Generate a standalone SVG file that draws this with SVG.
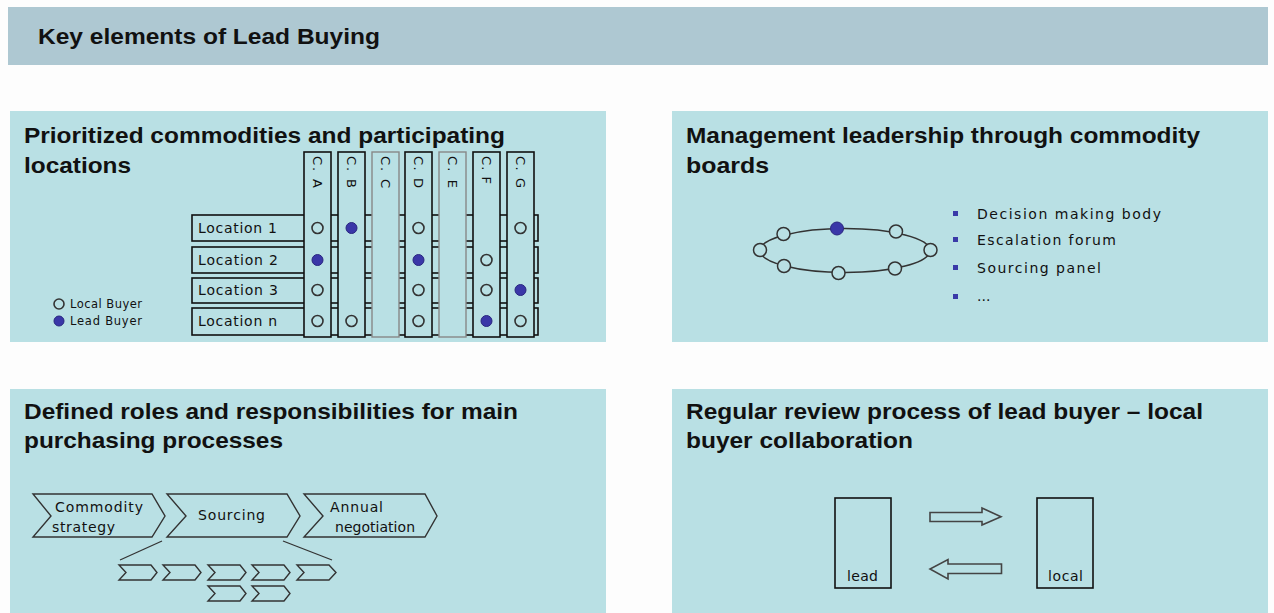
<svg xmlns="http://www.w3.org/2000/svg" width="1274" height="613" viewBox="0 0 1274 613">
<style>
.bg{fill:#fdfdfd}
.hdr{fill:#aec8d2}
.pnl{fill:#b9e0e4}
.ttl{font-family:"Liberation Sans",Arial,sans-serif;font-weight:bold;font-size:22px;fill:#111}
.txt{font-family:"DejaVu Sans",Verdana,sans-serif;font-size:14px;fill:#111}
.sm{font-family:"DejaVu Sans",Verdana,sans-serif;font-size:11.5px;fill:#111}
.col{font-family:"DejaVu Sans",Verdana,sans-serif;font-size:13px;fill:#111}
.box{fill:#b9e0e4;stroke:#111;stroke-width:1.6}
.gbox{fill:#b9e0e4;stroke:#888;stroke-width:1.4}
.op{fill:none;stroke:#333;stroke-width:1.6}
.fl{fill:#3a37a8;stroke:#2a2780;stroke-width:1}
.chev{fill:#b9e0e4;stroke:#333;stroke-width:1.4}
.ln{stroke:#333;stroke-width:1.3;fill:none}
.arr{fill:#b9e0e4;stroke:#444;stroke-width:1.6}
.nd{fill:#b9e0e4;stroke:#333;stroke-width:1.5}
.sq{fill:#3a3aa8}
</style>
<rect class="bg" x="0" y="0" width="1274" height="613"/>
<g id="header">
<rect class="hdr" x="8" y="7" width="1260" height="58"/>
<text class="ttl" x="38" y="44" textLength="342" lengthAdjust="spacingAndGlyphs">Key elements of Lead Buying</text>
</g>

<g id="panel-commodities">
<rect class="pnl" x="10" y="111" width="596" height="231"/>
<text class="ttl" x="24" y="143" textLength="481" lengthAdjust="spacingAndGlyphs">Prioritized commodities and participating</text>
<text class="ttl" x="24" y="173" textLength="107" lengthAdjust="spacingAndGlyphs">locations</text>
<g id="rows">
<rect class="box" x="192" y="215" width="346" height="26"/>
<rect class="box" x="192" y="247" width="346" height="26"/>
<rect class="box" x="192" y="278" width="346" height="25"/>
<rect class="box" x="192" y="308" width="346" height="27"/>
<text class="txt" x="198" y="233" font-size="15" textLength="79" lengthAdjust="spacing">Location 1</text>
<text class="txt" x="198" y="265" font-size="15" textLength="80" lengthAdjust="spacing">Location 2</text>
<text class="txt" x="198" y="295" font-size="15" textLength="80" lengthAdjust="spacing">Location 3</text>
<text class="txt" x="198" y="326" font-size="15" textLength="79" lengthAdjust="spacing">Location n</text>
</g>
<g id="columns">
<rect class="box" x="304" y="152" width="27" height="185"/>
<rect class="box" x="338" y="152" width="27" height="185"/>
<rect class="gbox" x="372" y="152" width="27" height="185"/>
<rect class="box" x="405" y="152" width="27" height="185"/>
<rect class="gbox" x="439" y="152" width="27" height="185"/>
<rect class="box" x="473" y="152" width="27" height="185"/>
<rect class="box" x="507" y="152" width="27" height="185"/>
<text class="col" transform="translate(317.5,156) rotate(90)" x="0" y="4.5" textLength="32" lengthAdjust="spacing">C. A</text>
<text class="col" transform="translate(351.5,156) rotate(90)" x="0" y="4.5" textLength="32" lengthAdjust="spacing">C. B</text>
<text class="col" transform="translate(385.5,156) rotate(90)" x="0" y="4.5" textLength="32" lengthAdjust="spacing">C. C</text>
<text class="col" transform="translate(418.5,156) rotate(90)" x="0" y="4.5" textLength="32" lengthAdjust="spacing">C. D</text>
<text class="col" transform="translate(452.5,156) rotate(90)" x="0" y="4.5" textLength="32" lengthAdjust="spacing">C. E</text>
<text class="col" transform="translate(486.5,156) rotate(90)" x="0" y="4.5" textLength="28" lengthAdjust="spacing">C. F</text>
<text class="col" transform="translate(520.5,156) rotate(90)" x="0" y="4.5" textLength="32" lengthAdjust="spacing">C. G</text>
</g>
<g id="dots">
<circle class="op" cx="317.5" cy="228" r="5.5"/>
<circle class="fl" cx="351.5" cy="228" r="5.5"/>
<circle class="op" cx="418.5" cy="228" r="5.5"/>
<circle class="op" cx="520.5" cy="228" r="5.5"/>
<circle class="fl" cx="317.5" cy="260" r="5.5"/>
<circle class="fl" cx="418.5" cy="260" r="5.5"/>
<circle class="op" cx="486.5" cy="260" r="5.5"/>
<circle class="op" cx="317.5" cy="290" r="5.5"/>
<circle class="op" cx="418.5" cy="290" r="5.5"/>
<circle class="op" cx="486.5" cy="290" r="5.5"/>
<circle class="fl" cx="520.5" cy="290" r="5.5"/>
<circle class="op" cx="317.5" cy="321" r="5.5"/>
<circle class="op" cx="351.5" cy="321" r="5.5"/>
<circle class="op" cx="418.5" cy="321" r="5.5"/>
<circle class="fl" cx="486.5" cy="321" r="5.5"/>
<circle class="op" cx="520.5" cy="321" r="5.5"/>
</g>
<g id="legend">
<circle class="op" cx="59" cy="304" r="5"/>
<circle class="fl" cx="59" cy="321" r="5"/>
<text class="sm" x="70" y="308" textLength="72" lengthAdjust="spacing">Local Buyer</text>
<text class="sm" x="70" y="325" textLength="72" lengthAdjust="spacing">Lead Buyer</text>
</g>
</g>

<g id="panel-boards">
<rect class="pnl" x="672" y="111" width="596" height="231"/>
<text class="ttl" x="686" y="143" textLength="514" lengthAdjust="spacingAndGlyphs">Management leadership through commodity</text>
<text class="ttl" x="686" y="173" textLength="83" lengthAdjust="spacingAndGlyphs">boards</text>
<ellipse cx="845" cy="250.5" rx="85" ry="22" fill="none" stroke="#333" stroke-width="1.5"/>
<circle class="nd" cx="760" cy="250" r="6.5"/>
<circle class="nd" cx="783.5" cy="234" r="6.5"/>
<circle class="fl" cx="837" cy="228.5" r="6.5"/>
<circle class="nd" cx="896" cy="231.5" r="6.5"/>
<circle class="nd" cx="930.5" cy="250" r="6.5"/>
<circle class="nd" cx="784" cy="266" r="6.5"/>
<circle class="nd" cx="838.5" cy="273" r="6.5"/>
<circle class="nd" cx="895" cy="268.5" r="6.5"/>
<rect class="sq" x="953" y="211" width="5" height="5"/>
<rect class="sq" x="953" y="237" width="5" height="5"/>
<rect class="sq" x="953" y="265" width="5" height="5"/>
<rect class="sq" x="953" y="294" width="5" height="5"/>
<text class="txt" x="977" y="219" font-size="15" textLength="184" lengthAdjust="spacing">Decision making body</text>
<text class="txt" x="977" y="245" font-size="15" textLength="139" lengthAdjust="spacing">Escalation forum</text>
<text class="txt" x="977" y="273" font-size="15" textLength="124" lengthAdjust="spacing">Sourcing panel</text>
<text class="txt" x="977" y="301" font-size="15">...</text>
</g>

<g id="panel-roles">
<rect class="pnl" x="10" y="389" width="596" height="224"/>
<text class="ttl" x="24" y="419" textLength="494" lengthAdjust="spacingAndGlyphs">Defined roles and responsibilities for main</text>
<text class="ttl" x="24" y="448" textLength="259" lengthAdjust="spacingAndGlyphs">purchasing processes</text>
<g id="chevrons">
<polygon class="chev" points="33,494 152,494 165,516 152,537 33,537 51,516"/>
<polygon class="chev" points="167,494 287,494 300,516 287,537 167,537 186,516"/>
<polygon class="chev" points="304,494 425,494 437,516 425,537 304,537 323,516"/>
<text class="txt" x="55" y="512" textLength="88" lengthAdjust="spacing">Commodity</text>
<text class="txt" x="52" y="532" textLength="63" lengthAdjust="spacing">strategy</text>
<text class="txt" x="198" y="520" textLength="67" lengthAdjust="spacing">Sourcing</text>
<text class="txt" x="330" y="512" textLength="53" lengthAdjust="spacing">Annual</text>
<text class="txt" x="335" y="532" textLength="80" lengthAdjust="spacing">negotiation</text>
</g>
<g id="connectors">
<line class="ln" x1="162" y1="541" x2="120" y2="560"/>
<line class="ln" x1="283" y1="541" x2="332" y2="560"/>
</g>
<g id="sub-steps">
<polygon class="chev" points="119,565 151,565 157,572.5 151,580 119,580 126,572.5"/>
<polygon class="chev" points="163,565 195,565 201,572.5 195,580 163,580 170,572.5"/>
<polygon class="chev" points="208,565 240,565 246,572.5 240,580 208,580 215,572.5"/>
<polygon class="chev" points="252,565 284,565 290,572.5 284,580 252,580 259,572.5"/>
<polygon class="chev" points="297,565 329,565 336,572.5 329,580 297,580 304,572.5"/>
<polygon class="chev" points="208,586 240,586 246,593.5 240,601 208,601 215,593.5"/>
<polygon class="chev" points="252,586 284,586 290,593.5 284,601 252,601 259,593.5"/>
</g>
</g>

<g id="panel-review">
<rect class="pnl" x="672" y="389" width="596" height="224"/>
<text class="ttl" x="686" y="419" textLength="517" lengthAdjust="spacingAndGlyphs">Regular review process of lead buyer – local</text>
<text class="ttl" x="686" y="448" textLength="227" lengthAdjust="spacingAndGlyphs">buyer collaboration</text>
<g id="lead">
<rect class="box" x="835" y="498" width="56" height="90"/>
<text class="txt" x="847" y="581" textLength="31" lengthAdjust="spacing">lead</text>
</g>
<g id="local">
<rect class="box" x="1037" y="498" width="56" height="90"/>
<text class="txt" x="1048" y="581" textLength="35" lengthAdjust="spacing">local</text>
</g>
<g id="arrows">
<polygon class="arr" points="930,512.5 982,512.5 982,508 1001,516.7 982,525 982,521.5 930,521.5"/>
<polygon class="arr" points="1001.5,564 948,564 948,559.5 930,569 948,579 948,573.5 1001.5,573.5"/>
</g>
</g>
</svg>
